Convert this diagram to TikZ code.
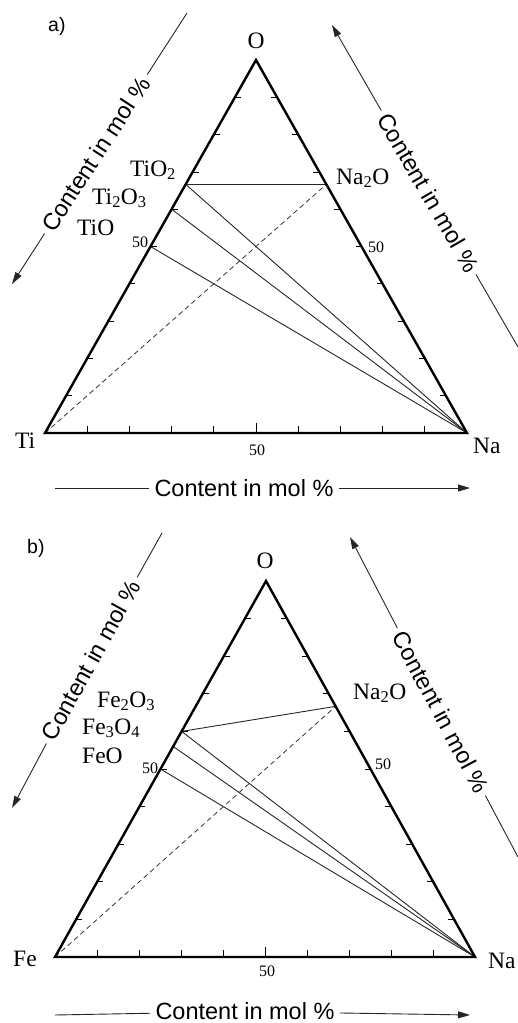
\documentclass[tikz,border=0pt]{standalone}
\usepackage{fontspec}
\setmainfont{Liberation Serif}
\setsansfont{Liberation Sans}
\usetikzlibrary{calc,arrows.meta}
\begin{document}
\begin{tikzpicture}[x=1pt,y=-1pt,
  edge/.style={line width=2.4pt, line join=miter},
  tie/.style={line width=0.9pt, black!85},
  dashline/.style={line width=0.8pt, dash pattern=on 5pt off 3.5pt, black!80},
  tickmark/.style={line width=0.8pt},
  chem/.style={font=\fontsize{23.5}{27}\selectfont, anchor=base west, inner sep=0pt},
  num/.style={font=\fontsize{16}{19}\selectfont, anchor=base west, inner sep=0pt},
  axlab/.style={font=\sffamily\fontsize{23.5}{28}\selectfont, inner xsep=5pt, inner ysep=0pt},
  axline/.style={line width=0.9pt, black!85},
  axarrow/.style={line width=0.9pt, black!85, -{Triangle[length=12pt,width=7pt]}},
  panel/.style={font=\sffamily\fontsize{19.5}{22}\selectfont, anchor=base west, inner sep=0pt}
]
\useasboundingbox (0,0) rectangle (518,1023);

% ---------------- panel a ----------------
\node[panel] (pa) at (48,31) {a)};
\coordinate (aTi) at (45,433);
\coordinate (aNa) at (467,433);
\coordinate (aO) at (256,60);
\coordinate (aTiOii) at ($(aTi)!2/3!(aO)$);
\coordinate (aTiiOiii) at ($(aTi)!0.6!(aO)$);
\coordinate (aTiO) at ($(aTi)!0.5!(aO)$);
\coordinate (aNaiiO) at ($(aNa)!2/3!(aO)$);

\foreach \i in {1,...,9} {
  \draw[tickmark] ($(aTi)!\i/10!(aNa)$) -- ++(0,-7);
  \draw[tickmark] ($(aTi)!\i/10!(aO)$) -- ++(6,0);
  \draw[tickmark] ($(aNa)!\i/10!(aO)$) -- ++(-6,0);
}
\draw[tickmark] ($(aTi)!0.5!(aNa)$) -- ++(0,-10);

\draw[tie] (aTiOii) -- (aNaiiO);
\draw[tie] (aTiOii) -- (aNa);
\draw[tie] (aTiiOiii) -- (aNa);
\draw[tie] (aTiO) -- (aNa);
\draw[dashline] (aTi) -- (aNaiiO);
\draw[edge] (aTi) -- (aNa) -- (aO) -- cycle;

\node[chem, anchor=base] (laO) at (256,48) {O};
\node[chem] (laTi) at (15,448) {Ti};
\node[chem] (laNa) at (473,453) {Na};
\node[chem] (laTiOii) at (130,176) {TiO\textsubscript{2}};
\node[chem] (laTiiOiii) at (92,204) {Ti\textsubscript{2}O\textsubscript{3}};
\node[chem] (laTiO) at (77,235) {TiO};
\node[chem] (laNaiiO) at (336,184) {Na\textsubscript{2}O};
\node[num] (la50l) at (132,247) {50};
\node[num] (la50r) at (368,252) {50};
\node[num, anchor=base] (la50b) at (257,455) {50};

% axis labels a
\coordinate (aL1) at (187,13);
\coordinate (aL4) at (12,284);
\node[axlab, rotate=57] (aLt) at (96,154) {Content in mol \%};
\draw[axline] (aL1) -- (aLt);
\draw[axarrow] (aLt) -- (aL4);

\coordinate (aR1) at (332,25);
\coordinate (aR4) at (518,347);
\node[axlab, rotate=-60] (aRt) at (428.5,192.5) {Content in mol \%};
\draw[axarrow] (aRt) -- (aR1);
\draw[axline] (aRt) -- (aR4);

\coordinate (aB1) at (55,488);
\coordinate (aB4) at (470,488);
\node[axlab] (aBt) at (244,488) {Content in mol \%};
\draw[axline] (aB1) -- (aBt);
\draw[axarrow] (aBt) -- (aB4);

% ---------------- panel b ----------------
\node[panel] (pb) at (27,553) {b)};
\coordinate (bFe) at (55,957);
\coordinate (bNa) at (475,957);
\coordinate (bO) at (266,581);
\coordinate (bFeiiOiii) at ($(bFe)!0.6!(bO)$);
\coordinate (bFeiiiOiv) at ($(bFe)!0.56!(bO)$);
\coordinate (bFeO) at ($(bFe)!0.5!(bO)$);
\coordinate (bNaiiO) at ($(bNa)!2/3!(bO)$);

\foreach \i in {1,...,9} {
  \draw[tickmark] ($(bFe)!\i/10!(bNa)$) -- ++(0,-7);
  \draw[tickmark] ($(bFe)!\i/10!(bO)$) -- ++(6,0);
  \draw[tickmark] ($(bNa)!\i/10!(bO)$) -- ++(-6,0);
}
\draw[tickmark] ($(bFe)!0.5!(bNa)$) -- ++(0,-10);

\draw[tie] (bFeiiOiii) -- (bNaiiO);
\draw[tie] (bFeiiOiii) -- (bNa);
\draw[tie] (bFeiiiOiv) -- (bNa);
\draw[tie] (bFeO) -- (bNa);
\draw[dashline] (bFe) -- (bNaiiO);
\draw[edge] (bFe) -- (bNa) -- (bO) -- cycle;

\node[chem, anchor=base] (lbO) at (265,568) {O};
\node[chem] (lbFe) at (13,966) {Fe};
\node[chem] (lbNa) at (488,968) {Na};
\node[chem] (lbFeiiOiii) at (97,707) {Fe\textsubscript{2}O\textsubscript{3}};
\node[chem] (lbFeiiiOiv) at (82,734) {Fe\textsubscript{3}O\textsubscript{4}};
\node[chem] (lbFeO) at (82,763) {FeO};
\node[chem] (lbNaiiO) at (353,699) {Na\textsubscript{2}O};
\node[num] (lb50l) at (142,773) {50};
\node[num] (lb50r) at (375,769) {50};
\node[num, anchor=base] (lb50b) at (267,976) {50};

% axis labels b
\coordinate (bL1) at (162,533);
\coordinate (bL4) at (12,808);
\node[axlab, rotate=61] (bLt) at (91,660) {Content in mol \%};
\draw[axline] (bL1) -- (bLt);
\draw[axarrow] (bLt) -- (bL4);

\coordinate (bR1) at (350,537);
\coordinate (bR4) at (518,857);
\node[axlab, rotate=-62] (bRt) at (441,712) {Content in mol \%};
\draw[axarrow] (bRt) -- (bR1);
\draw[axline] (bRt) -- (bR4);

\coordinate (bB1) at (55,1015);
\coordinate (bB4) at (470,1015);
\node[axlab] (bBt) at (245,1011.5) {Content in mol \%};
\draw[axline] (bB1) -- (bBt);
\draw[axarrow] (bBt) -- (bB4);
\end{tikzpicture}
\end{document}
